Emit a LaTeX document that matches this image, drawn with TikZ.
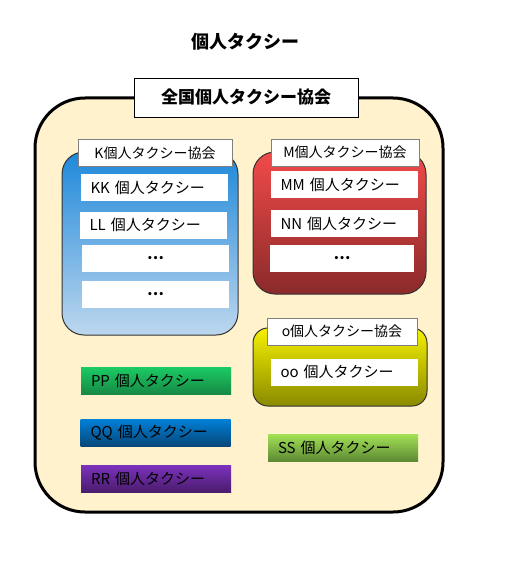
\documentclass[tikz,border=0pt]{standalone}
\usepackage{fontspec}
\setmainfont{Noto Sans CJK JP}
\usepackage{tikz}

\definecolor{cream}{HTML}{FFF2CC}
\definecolor{ktop}{HTML}{1E88DA}
\definecolor{kbot}{HTML}{BDD7EE}
\definecolor{mtop}{HTML}{F24A4A}
\definecolor{mbot}{HTML}{8A2A2A}
\definecolor{otop}{HTML}{F5F000}
\definecolor{obot}{HTML}{8A8A00}

\begin{document}
\begin{tikzpicture}[x=1pt, y=-1pt,
    group/.style={draw=black!80, line width=1pt, rounded corners=22pt},
    assoc/.style={draw=gray, fill=white, minimum width=150pt, minimum height=27pt,
        inner sep=0pt, font=\fontsize{14}{16}\selectfont},
    member/.style={fill=white, text width=127pt, inner xsep=10pt, inner ysep=0pt,
        minimum height=27pt, align=left, font=\fontsize{15}{18}\selectfont},
    more/.style={fill=white, minimum width=147pt, minimum height=27pt, inner sep=0pt,
        font=\bfseries\fontsize{15}{18}\selectfont},
    single/.style={text width=130pt, inner xsep=10pt, inner ysep=0pt,
        minimum height=27pt, align=left, font=\fontsize{15}{18}\selectfont},
]
\useasboundingbox (0,0) rectangle (507,580);

\node (title) at (245,42) {\bfseries\fontsize{18}{20}\selectfont 個人タクシー};

% outer association
\node (zenkoku) [draw, line width=3pt, fill=cream, rounded corners=50pt,
    minimum width=408pt, minimum height=414pt] at (239,305) {};
\node (zenkokuLabel) [draw, fill=white, minimum width=224pt, minimum height=39pt,
    inner sep=0pt] at (246,97.5) {\bfseries\fontsize{17}{20}\selectfont 全国個人タクシー協会};

% K group
\node (K) [group, top color=ktop, bottom color=kbot,
    minimum width=176pt, minimum height=183pt] at (150,243.5) {};
\node (Klabel) [assoc, minimum width=154pt] at (155,153) {K個人タクシー協会};
\node (KK) [member] at (154,187.5) {KK 個人タクシー};
\node (LL) [member] at (153,225) {LL 個人タクシー};
\node (Kdots1) [more] at (155.5,258.5) {…};
\node (Kdots2) [more] at (155.5,294) {…};

% M group
\node (M) [group, top color=mtop, bottom color=mbot,
    minimum width=173pt, minimum height=142pt] at (339.5,223) {};
\node (Mlabel) [assoc, minimum width=148pt] at (345,152.5) {M個人タクシー協会};
\node (MM) [member] at (344,184.5) {MM 個人タクシー};
\node (NN) [member] at (344,223.5) {NN 個人タクシー};
\node (Mdots) [more, minimum width=144pt] at (342,258.5) {…};

% O group
\node (O) [group, rounded corners=15pt, top color=otop, bottom color=obot,
    minimum width=174pt, minimum height=78pt] at (340,367) {};
\node (Olabel) [assoc] at (342,331.5) {o個人タクシー協会};
\node (OO) [member] at (344,372) {oo 個人タクシー};

% single members
\node (PP) [single, top color={rgb,255:red,27;green,203;blue,100},
    bottom color={rgb,255:red,23;green,138;blue,69}] at (156,380.5) {PP 個人タクシー};
\node (QQ) [single, top color={rgb,255:red,0;green,128;blue,216},
    bottom color={rgb,255:red,7;green,71;blue,122}] at (155.5,432.5) {QQ 個人タクシー};
\node (RR) [single, top color={rgb,255:red,124;green,50;blue,188},
    bottom color={rgb,255:red,74;green,28;blue,110}] at (156,478.5) {RR 個人タクシー};
\node (SS) [single, top color={rgb,255:red,162;green,226;blue,86},
    bottom color={rgb,255:red,94;green,138;blue,52}] at (343,447.5) {SS 個人タクシー};
\end{tikzpicture}
\end{document}
